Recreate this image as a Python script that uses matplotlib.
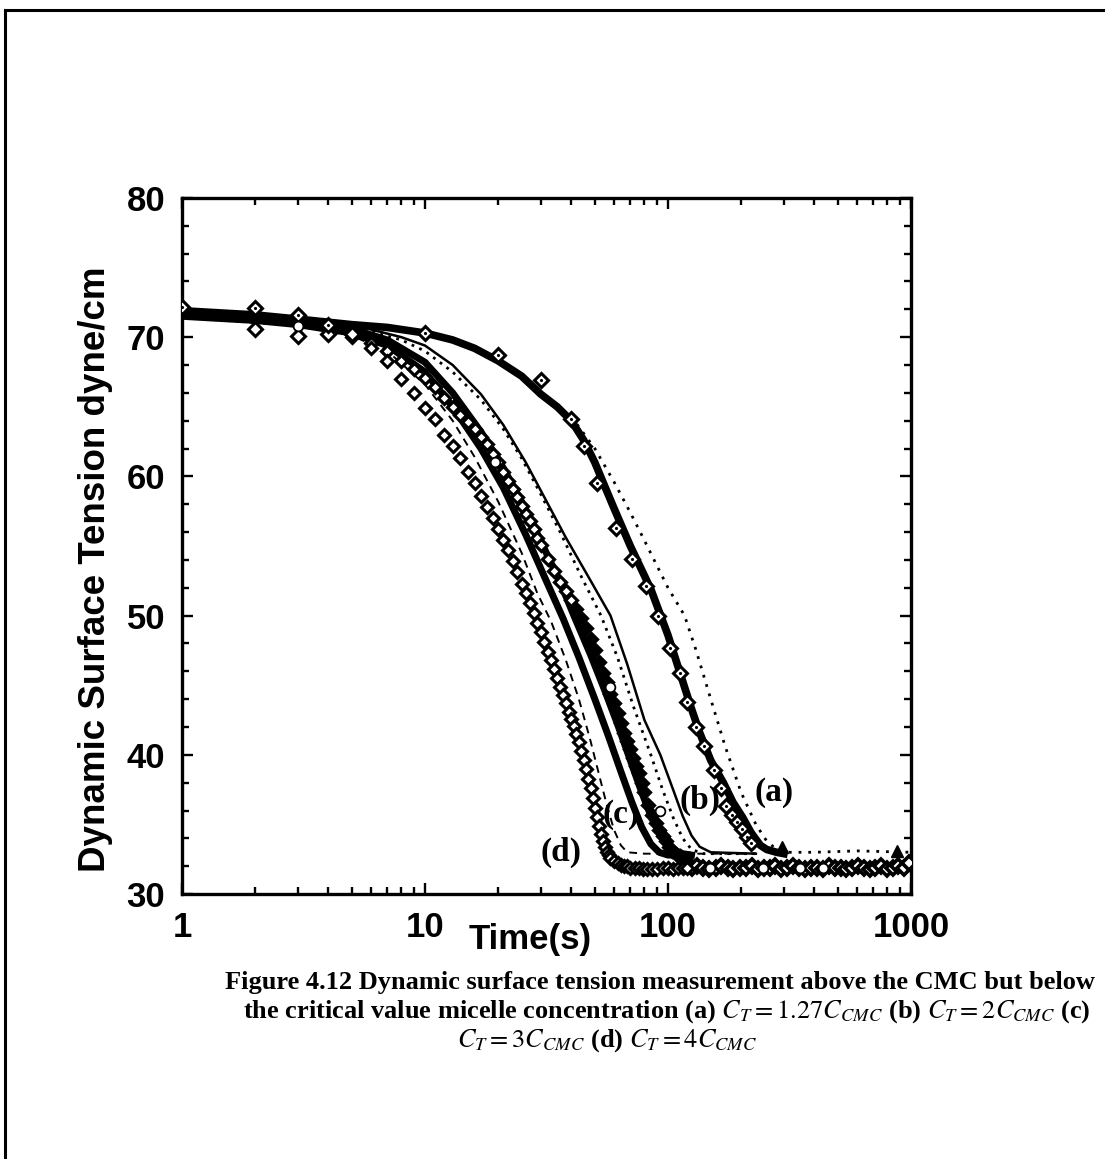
import matplotlib
matplotlib.use("Agg")
import matplotlib.pyplot as plt
from matplotlib.lines import Line2D
from matplotlib.ticker import LogLocator, MultipleLocator, NullFormatter

# measured points, time (s) vs surface tension (dyne/cm)
a_t = [1, 2, 3, 4, 10, 20, 30, 40, 45, 51, 61, 71, 81, 91, 102, 112, 120, 131,
       141, 154, 165, 174, 183, 192, 201, 211, 219]
a_y = [72.2, 72.1, 71.6, 70.9, 70.3, 68.7, 66.9, 64.1, 62.2, 59.5, 56.3, 54.1,
       52.1, 50.0, 47.7, 45.9, 43.8, 42.0, 40.6, 38.9, 37.6, 36.3, 35.7, 35.2,
       34.7, 34.1, 33.7]

early_t = [2, 3, 4, 5]
early_y = [70.6, 70.1, 70.2, 70.2]

d_t = [5, 6, 7, 8, 9, 10, 11, 12, 13, 14, 15, 16, 17, 18, 19, 20, 21, 22, 23,
       24, 25, 26, 27, 28, 29, 30, 31, 32, 33, 34, 35, 36, 37, 38, 39, 40, 41,
       42, 43, 44, 45, 46, 47, 48, 49, 50, 51, 52, 53, 54, 55, 56, 57, 58, 60,
       62, 64, 66, 68, 70, 73, 76, 79, 82, 86, 90, 95, 100, 105, 110, 115, 120]
d_y = [70.0, 69.2, 68.3, 67.0, 66.0, 64.9, 64.1, 63.0, 62.2, 61.3, 60.3, 59.5,
       58.6, 57.8, 57.0, 56.2, 55.4, 54.7, 53.9, 53.1, 52.3, 51.6, 50.9, 50.2,
       49.5, 48.8, 48.1, 47.4, 46.8, 46.2, 45.5, 44.9, 44.3, 43.7, 43.1, 42.6,
       42.1, 41.5, 40.9, 40.3, 39.6, 39.0, 38.3, 37.6, 36.9, 36.2, 35.5, 34.9,
       34.3, 33.8, 33.4, 33.0, 32.8, 32.6, 32.4, 32.2, 32.1, 32.0, 32.0, 31.9,
       31.9, 31.9, 31.8, 31.8, 31.8, 31.8, 31.9, 31.9, 31.8, 31.9, 31.9, 31.9]

c_t = [6, 7, 8, 9, 10, 11, 12, 13, 14, 15, 16, 17, 18, 19, 20, 21, 22, 23, 24,
       25, 26, 27, 28, 29, 30, 32, 34, 36, 38, 40, 42, 44, 46, 48, 50, 52, 54,
       56, 58, 60, 62, 64, 66, 68, 70, 72, 74, 76, 78, 80, 83, 86, 89, 92, 95,
       98, 101, 104, 108, 112, 116, 120]
c_y = [69.6, 69.0, 68.3, 67.7, 67.1, 66.4, 65.6, 65.0, 64.4, 63.9, 63.4, 62.8,
       62.3, 61.6, 61.0, 60.3, 59.7, 59.1, 58.5, 57.9, 57.3, 56.8, 56.2, 55.6,
       55.1, 54.1, 53.2, 52.4, 51.8, 51.1, 50.5, 49.8, 49.1, 48.3, 47.5, 46.7,
       45.9, 45.2, 44.4, 43.7, 43.0, 42.3, 41.6, 41.0, 40.4, 39.8, 39.2, 38.7,
       38.0, 37.3, 36.4, 35.7, 35.1, 34.6, 34.2, 33.8, 33.4, 33.1, 32.9, 32.7,
       32.5, 32.4]

plat_t = [125, 132, 140, 148, 157, 166, 176, 186, 197, 209, 221, 234, 248, 262,
          277, 293, 310, 328, 347, 367, 388, 410, 434, 459, 485, 513, 542, 573,
          606, 640, 676, 714, 754, 796, 840, 886, 934, 985]
plat_y = [31.9, 32.0, 31.9, 31.8, 31.9, 32.0, 31.9, 31.8, 31.9, 31.9, 32.0, 31.8,
          31.9, 31.9, 32.0, 31.8, 31.9, 32.0, 31.9, 31.8, 31.9, 31.9, 31.8, 32.0,
          31.9, 31.9, 31.8, 31.9, 32.0, 31.9, 31.8, 31.9, 32.0, 31.8, 31.9, 32.0,
          31.9, 32.2]

circ_t = [3, 19.5, 57.8, 92.7, 149, 245, 349, 434]
circ_y = [70.8, 61.0, 44.9, 36.0, 31.9, 31.9, 31.9, 31.9]

tri_t = [294, 873]
tri_y = [33.4, 33.1]

# model curves
fit_a_t = [1, 2, 3, 5, 7, 10, 13, 16, 20, 25, 30, 35, 40, 45, 50, 54, 60, 70,
           85, 100, 112, 125, 135, 150, 169, 185, 203, 220, 240, 255, 280, 300]
fit_a_y = [71.9, 71.6, 71.3, 70.9, 70.7, 70.3, 69.8, 69.2, 68.3, 67.2, 65.9,
           65.0, 64.0, 62.6, 61.0, 59.6, 57.7, 55.0, 51.9, 48.6, 45.9, 43.3,
           41.6, 39.6, 38.0, 36.6, 35.5, 34.4, 33.5, 33.2, 33.0, 32.9]

dot_a_t = [40, 50, 60, 70, 80, 90, 100, 117, 130, 150, 172, 200, 230, 255, 280,
           310, 400, 600, 1000]
dot_a_y = [64.3, 62.0, 59.6, 57.4, 55.4, 53.6, 52.0, 50.0, 47.6, 44.0, 40.6,
           37.3, 35.0, 33.8, 33.2, 33.0, 33.0, 33.1, 33.0]

dash_d_t = [1, 3, 5, 7, 10, 13, 16, 20, 25, 29, 33, 38, 43, 48, 52, 56, 60, 64,
            68, 80, 120, 230]
dash_d_y = [71.4, 70.8, 70.1, 69.0, 66.6, 64.0, 61.4, 58.2, 54.5, 51.6, 49.6,
            46.8, 44.0, 41.0, 38.6, 36.4, 34.6, 33.5, 33.0, 32.9, 32.9, 32.9]

thick1_t = [1, 2, 3, 5, 7, 10, 13, 17, 21, 26, 31, 37, 43, 50, 57, 64, 71, 78,
            85, 92, 100, 120]
thick1_y = [71.5, 71.2, 70.9, 70.3, 69.4, 67.5, 65.0, 62.0, 59.2, 55.8, 52.8,
            49.8, 47.0, 44.0, 41.3, 38.8, 36.6, 34.8, 33.6, 33.0, 32.8, 32.8]

thick2_t = [1, 2, 3, 5, 7, 10, 13, 17, 21, 26, 31, 36, 41, 48, 55, 62, 70, 78,
            86, 95, 105, 115, 125]
thick2_y = [71.7, 71.4, 71.1, 70.6, 69.8, 68.2, 66.0, 63.2, 60.6, 57.6, 54.8,
            52.4, 50.0, 47.2, 44.6, 42.2, 39.6, 37.3, 35.4, 34.0, 33.2, 32.9, 32.8]

dot_m_t = [1, 3, 5, 8, 10, 13, 17, 21, 25, 30, 36, 44, 53, 62, 72, 85, 95, 105,
           115, 125, 140, 230]
dot_m_y = [71.8, 71.3, 70.8, 69.8, 69.0, 67.5, 65.5, 63.4, 61.3, 58.7, 56.0,
           52.8, 50.0, 47.0, 43.5, 40.0, 37.5, 35.5, 34.0, 33.2, 32.9, 32.9]

thin_t = [1, 3, 5, 8, 10, 13, 17, 21, 26, 31, 38, 47, 58, 68, 80, 93, 105, 115,
          125, 135, 150, 230]
thin_y = [71.8, 71.3, 70.9, 70.0, 69.4, 68.0, 65.9, 63.7, 61.0, 58.5, 55.6,
          52.8, 50.0, 46.5, 42.5, 40.0, 37.5, 35.6, 34.2, 33.4, 33.0, 32.9]

curve_labels = ['(a)', '(b)', '(c)', '(d)']
label_t = [273, 135.5, 64.1, 36.3]
label_y = [37.3, 36.75, 35.7, 33.0]

caption = [
    'Figure 4.12 Dynamic surface tension measurement above the CMC but below',
    r'the critical value micelle concentration (a) $C_T = 1.27C_{CMC}$ (b) $C_T = 2C_{CMC}$ (c)',
    r'$C_T = 3C_{CMC}$ (d) $C_T = 4C_{CMC}$',
]

plt.rcParams['font.family'] = ['Liberation Sans', 'DejaVu Sans']
plt.rcParams['mathtext.fontset'] = 'stix'

fig = plt.figure(figsize=(11.05, 11.59), dpi=100)
ax = fig.add_axes([0.1647, 0.2286, 0.6597, 0.6006])
ax.set_xscale('log')

ax.plot(fit_a_t, fit_a_y, color='black', lw=5.5, zorder=2)
ax.plot(dot_a_t, dot_a_y, color='black', lw=2.0, ls=(0, (1, 2.5)), zorder=2)
ax.plot(dash_d_t, dash_d_y, color='black', lw=1.4, ls=(0, (4, 3)), zorder=2)
ax.plot(thick1_t, thick1_y, color='black', lw=5.0, zorder=2)
ax.plot(thick2_t, thick2_y, color='black', lw=5.0, zorder=2)
ax.plot(dot_m_t, dot_m_y, color='black', lw=2.0, ls=(0, (1, 2)), zorder=2)
ax.plot(thin_t, thin_y, color='black', lw=1.8, zorder=2)

diamond = dict(marker='D', ls='none', mec='black', zorder=3)
n_open = sum(1 for t in c_t if t < 42)
ax.plot(plat_t, plat_y, ms=7.0, mew=2.6, mfc='white', **diamond)
ax.plot(c_t[:n_open], c_y[:n_open], ms=6.2, mew=2.3, mfc='white', **diamond)
ax.plot(c_t[n_open:], c_y[n_open:], ms=6.2, mew=2.3, mfc='black', **diamond)
ax.plot(d_t, d_y, ms=6.3, mew=2.2, mfc='white', **diamond)
ax.plot(early_t, early_y, ms=6.8, mew=2.2, mfc='white', **diamond)
ax.plot(a_t, a_y, ms=6.8, mew=2.2, mfc='white', **diamond)
ax.plot(a_t, a_y, marker='.', ls='none', color='black', ms=2.5, zorder=3)

ax.plot(circ_t, circ_y, marker='o', ls='none', mfc='white', mec='black',
        mew=1.3, ms=7, zorder=4)
ax.plot(tri_t, tri_y, marker='^', ls='none', color='black', ms=8, zorder=4)

for lab, t, y in zip(curve_labels, label_t, label_y):
    ax.text(t, y, lab, ha='center', va='center', fontsize=24,
            family='Liberation Serif', fontweight='bold', zorder=5)

ax.set_xlim(1, 1000)
ax.set_ylim(30, 80)
ax.set_xticks([1, 10, 100, 1000])
ax.set_xticklabels(['1', '10', '100', '1000'])
ax.xaxis.set_minor_locator(LogLocator(base=10, subs=range(2, 10)))
ax.xaxis.set_minor_formatter(NullFormatter())
ax.set_yticks([30, 40, 50, 60, 70, 80])
ax.yaxis.set_minor_locator(MultipleLocator(2))

ax.tick_params(which='both', direction='in', top=True, right=True, width=1.7)
ax.tick_params(which='major', length=8, labelsize=25, pad=12)
ax.tick_params(which='minor', length=5)
for lab in ax.get_xticklabels() + ax.get_yticklabels():
    lab.set_fontweight('bold')
for sp in ax.spines.values():
    sp.set_linewidth(2.4)

ax.set_xlabel('Time(s)', fontsize=25, fontweight='bold')
ax.xaxis.set_label_coords(0.477, -0.066)
ax.xaxis.label.set_va('center')
ax.set_ylabel('Dynamic Surface Tension dyne/cm', fontsize=26.5, fontweight='bold')
ax.yaxis.set_label_coords(-0.118, 0.466)
ax.yaxis.label.set_va('center')

# page border on the left and top
fig.add_artist(Line2D([5 / 1105, 5 / 1105], [0, 1 - 10 / 1159],
                      transform=fig.transFigure, color='black', lw=2.2))
fig.add_artist(Line2D([5 / 1105, 1], [1 - 10 / 1159, 1 - 10 / 1159],
                      transform=fig.transFigure, color='black', lw=2.2))

cap_x = [660 / 1105, 667 / 1105, 607 / 1105]
cap_y = [1 - 983 / 1159, 1 - 1012 / 1159, 1 - 1041 / 1159]
for text, x, y in zip(caption, cap_x, cap_y):
    fig.text(x, y, text, ha='center', va='center', fontsize=19,
             family='Liberation Serif', fontweight='bold')

fig.savefig('out.png', dpi=100)
